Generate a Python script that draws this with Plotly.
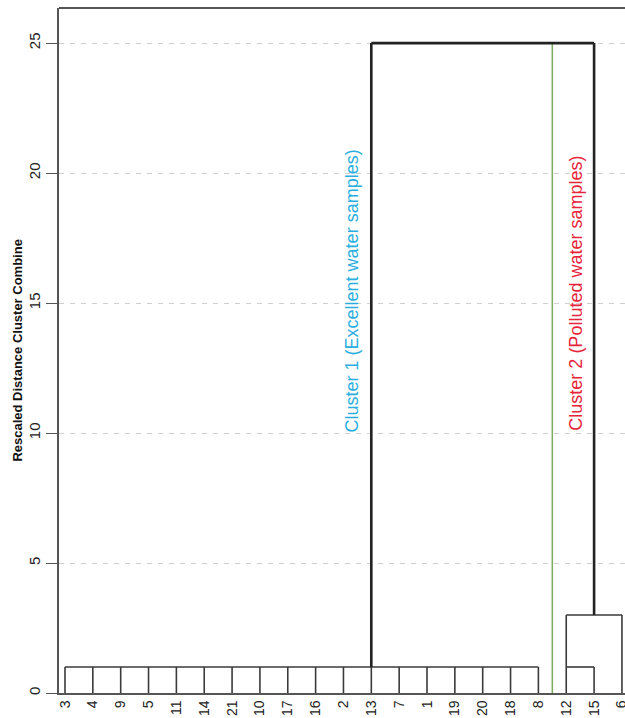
import plotly.graph_objects as go

# ---- data ----
leaf_labels = ["3", "4", "9", "5", "11", "14", "21", "10", "17", "16", "2",
               "13", "7", "1", "19", "20", "18", "8", "12", "15", "6"]
leaf_join_height = [1] * 20 + [3]          # height where each leaf first joins

# merges: horizontal bar spans from leaf .. to leaf at height
merge_from = ["3", "12", "12", "13"]
merge_to = ["8", "15", "6", "15"]
merge_height = [1, 1, 3, 25]
# stem rising from each merge (at leaf position) to its parent height
stem_leaf = ["13", "12", "15"]
stem_from = [1, 1, 3]
stem_to = [25, 3, 25]

cut_between = ["8", "12"]
cut_height = 25
y_ticks = [0, 5, 10, 15, 20, 25]
cluster_texts = ["Cluster 1 (Excellent water samples)", "Cluster 2 (Polluted water samples)"]

pos = {lab: i for i, lab in enumerate(leaf_labels)}

thin_x, thin_y = [], []
thick_x, thick_y = [], []
for lab, h in zip(leaf_labels, leaf_join_height):
    thin_x += [pos[lab], pos[lab], None]
    thin_y += [0, h, None]
for a, b, h in zip(merge_from, merge_to, merge_height):
    tx, ty = (thick_x, thick_y) if h >= 25 else (thin_x, thin_y)
    tx += [pos[a], pos[b], None]
    ty += [h, h, None]
for lab, h0, h1 in zip(stem_leaf, stem_from, stem_to):
    if h1 >= 25:
        thick_x += [pos[lab], pos[lab], None]
        thick_y += [h0, h1, None]
    else:
        thin_x += [pos[lab], pos[lab], None]
        thin_y += [h0, h1, None]

cut_x = (pos[cut_between[0]] + pos[cut_between[1]]) / 2

fig = go.Figure()
fig.add_trace(go.Scatter(x=[cut_x, cut_x], y=[0, cut_height], mode="lines",
                         line=dict(color="#7aac5c", width=1.5), hoverinfo="skip"))
fig.add_trace(go.Scatter(x=thin_x, y=thin_y, mode="lines",
                         line=dict(color="#3a3a3a", width=1.6), hoverinfo="skip"))
fig.add_trace(go.Scatter(x=thick_x, y=thick_y, mode="lines",
                         line=dict(color="#222222", width=2.6), hoverinfo="skip"))

font_family = "Liberation Sans, Arial, sans-serif"

fig.add_annotation(x=10.31, y=15.45, xref="x", yref="y", text=cluster_texts[0],
                   textangle=-90, showarrow=False, xanchor="center", yanchor="middle",
                   font=dict(family=font_family, size=18, color="#2aaee0"))
fig.add_annotation(x=18.35, y=15.4, xref="x", yref="y", text=cluster_texts[1],
                   textangle=-90, showarrow=False, xanchor="center", yanchor="middle",
                   font=dict(family=font_family, size=18, color="#e8233c"))
fig.add_annotation(x=-0.074, y=0.5, xref="paper", yref="paper",
                   text="<b>Rescaled Distance Cluster Combine</b>",
                   textangle=-90, showarrow=False, xanchor="center", yanchor="middle",
                   font=dict(family=font_family, size=13, color="#111111"))

# top frame line
fig.add_shape(type="line", xref="paper", yref="paper", x0=0, x1=1, y0=1, y1=1,
              line=dict(color="#555555", width=2))

fig.update_layout(
    width=625, height=718,
    margin=dict(l=59, r=0, t=8, b=25),
    template="none",
    plot_bgcolor="white", paper_bgcolor="white",
    showlegend=False,
    font=dict(family=font_family, color="#222222"),
    xaxis=dict(range=[-0.215, 20.11], tickmode="array",
               tickvals=list(range(len(leaf_labels))), ticktext=leaf_labels,
               tickangle=-90, ticks="", showgrid=False, zeroline=False,
               showline=True, linecolor="#555555", linewidth=1.5,
               ticklabeloverflow="allow",
               tickfont=dict(size=14, color="#222222"), automargin=False),
    yaxis=dict(range=[0, 26.35], tickmode="array", tickvals=y_ticks,
               tickangle=-90, ticks="outside", ticklen=11, tickcolor="#555555",
               tickwidth=1.2,
               showgrid=True, gridcolor="#d0d0d0", griddash="5px,6px", gridwidth=1,
               zeroline=False, showline=True, linecolor="#555555", linewidth=1.5,
               tickfont=dict(size=15, color="#222222"), automargin=False),
)

fig.write_html(
    "out.html",
    config={"displayModeBar": False},
    post_script="document.body.style.margin='0';document.body.style.overflow='hidden';",
)
